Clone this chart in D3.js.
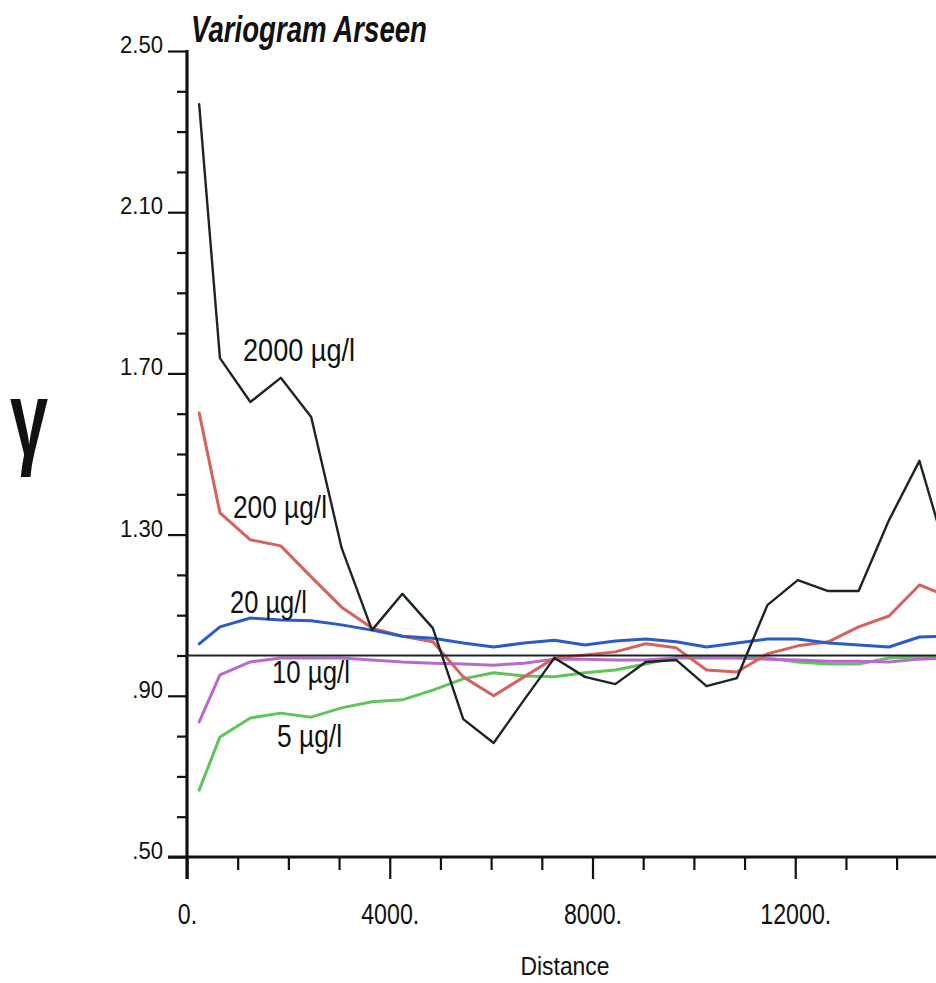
<!DOCTYPE html>
<html>
<head>
<meta charset="utf-8">
<script src="https://cdn.jsdelivr.net/npm/d3@7/dist/d3.min.js"></script>
<style>
  html, body { margin: 0; padding: 0; background: #fff; }
  svg { display: block; }
  text { font-family: "Liberation Sans", Arial, sans-serif; fill: #111; }
</style>
</head>
<body>
<svg id="chart" width="936" height="983"></svg>
<script>
// Lag distances (m) of the experimental indicator variograms
const lags = [240, 650, 1250, 1850, 2450, 3050, 3650, 4250, 4850, 5450, 6050, 6650, 7250,
              7850, 8450, 9050, 9650, 10250, 10850, 11450, 12050, 12650, 13250, 13850, 14450, 15050];

// Standardised semivariance per threshold
const gamma2000 = [2.368, 1.738, 1.629, 1.689, 1.592, 1.267, 1.063, 1.153, 1.068, 0.842, 0.783, 0.890, 0.994,
                   0.947, 0.929, 0.984, 0.989, 0.924, 0.944, 1.125, 1.187, 1.160, 1.160, 1.336, 1.483, 1.225];
const gamma200  = [1.602, 1.354, 1.287, 1.272, 1.195, 1.120, 1.068, 1.048, 1.034, 0.947, 0.900, 0.947, 0.994,
                   1.001, 1.009, 1.029, 1.019, 0.964, 0.959, 1.004, 1.024, 1.034, 1.071, 1.098, 1.175, 1.145];
const gamma20   = [1.029, 1.071, 1.093, 1.088, 1.086, 1.076, 1.063, 1.048, 1.043, 1.031, 1.021, 1.031, 1.038,
                   1.026, 1.036, 1.041, 1.034, 1.021, 1.031, 1.041, 1.041, 1.031, 1.026, 1.021, 1.046, 1.048];
const gamma10   = [0.835, 0.952, 0.984, 0.994, 0.994, 0.994, 0.989, 0.984, 0.981, 0.979, 0.976, 0.981, 0.991,
                   0.991, 0.989, 0.989, 0.994, 0.994, 0.994, 0.991, 0.989, 0.986, 0.986, 0.984, 0.991, 0.994];
const gamma5    = [0.666, 0.798, 0.845, 0.857, 0.847, 0.870, 0.885, 0.890, 0.914, 0.942, 0.957, 0.949, 0.947,
                   0.957, 0.964, 0.979, 0.996, 0.996, 0.996, 0.994, 0.984, 0.979, 0.979, 0.994, 0.996, 0.996];

const seriesNames = ["5 µg/l", "10 µg/l", "20 µg/l", "200 µg/l", "2000 µg/l"];
const sill = 1.0;

const yMajorTicks = [0.5, 0.9, 1.3, 1.7, 2.1, 2.5];
const yTickLabels = [".50", ".90", "1.30", "1.70", "2.10", "2.50"];
const xMajorTicks = [0, 4000, 8000, 12000];
const xTickLabels = ["0.", "4000.", "8000.", "12000."];

const svg = d3.select("#chart");

const x = d3.scaleLinear().domain([0, 16000]).range([187, 998]);
const y = d3.scaleLinear().domain([0.5, 2.5]).range([857, 51]);

// condense a text element horizontally to a fraction of its natural width
function condense(sel, f) {
  sel.each(function () {
    const w = this.getComputedTextLength();
    d3.select(this).attr("textLength", w * f).attr("lengthAdjust", "spacingAndGlyphs");
  });
}

// ---- y axis ----
const yMinor = d3.range(0.5, 2.5001, 0.1).filter(v => !yMajorTicks.some(m => Math.abs(m - v) < 1e-6));
const yAxisMinor = d3.axisLeft(y).tickValues(yMinor).tickSize(10).tickFormat("");
const yAxisMajor = d3.axisLeft(y).tickValues(yMajorTicks).tickSize(19).tickPadding(5)
  .tickFormat((d, i) => yTickLabels[i]);

const gyMinor = svg.append("g").attr("transform", "translate(187,0)").call(yAxisMinor);
const gy = svg.append("g").attr("transform", "translate(187,0)").call(yAxisMajor);
[gyMinor, gy].forEach(g => {
  g.select(".domain").remove();
  g.selectAll("line").attr("stroke", "#111").attr("stroke-width", 2.2);
});
gy.selectAll("text").attr("font-size", 24).attr("dy", "0.06em").style("fill", "#111").call(condense, 0.92);

// ---- x axis ----
const xMinor = d3.range(1000, 16000, 1000).filter(v => v % 4000 !== 0);
const xAxisMinor = d3.axisBottom(x).tickValues(xMinor.concat([16000])).tickSize(13).tickFormat("");
const xAxisMajor = d3.axisBottom(x).tickValues(xMajorTicks).tickSize(22).tickPadding(24)
  .tickFormat((d, i) => xTickLabels[i]);
const gxMinor = svg.append("g").attr("transform", "translate(0,857)").call(xAxisMinor);
const gx = svg.append("g").attr("transform", "translate(0,857)").call(xAxisMajor);
[gxMinor, gx].forEach(g => {
  g.select(".domain").remove();
  g.selectAll("line").attr("stroke", "#111").attr("stroke-width", 2.2);
});
gx.selectAll("text").attr("font-size", 29).style("fill", "#111").call(condense, 0.8);

// axis lines
svg.append("line").attr("x1", 187).attr("x2", 187).attr("y1", y(2.5) - 1).attr("y2", 879)
  .attr("stroke", "#111").attr("stroke-width", 3.2);
svg.append("line").attr("x1", 168).attr("x2", 936).attr("y1", y(0.5)).attr("y2", y(0.5))
  .attr("stroke", "#111").attr("stroke-width", 3.2);

// ---- variogram curves ----
const series = [
  { name: seriesNames[0], values: gamma5,    color: "#5fc45a", width: 3 },
  { name: seriesNames[1], values: gamma10,   color: "#b968cf", width: 3 },
  { name: seriesNames[3], values: gamma200,  color: "#d4625e", width: 3 },
  { name: seriesNames[2], values: gamma20,   color: "#2a5cc4", width: 3 },
  { name: seriesNames[4], values: gamma2000, color: "#1b2525", width: 2.4 }
];

const line = d3.line().x(d => x(d[0])).y(d => y(d[1]));

svg.append("g").selectAll("path").data(series).join("path")
  .attr("d", s => line(lags.map((l, i) => [l, s.values[i]])))
  .attr("fill", "none")
  .attr("stroke", s => s.color)
  .attr("stroke-width", s => s.width)
  .attr("stroke-linejoin", "round")
  .attr("stroke-linecap", "round");

// sill
svg.append("line").attr("x1", x(0)).attr("x2", 936).attr("y1", y(sill)).attr("y2", y(sill))
  .attr("stroke", "#1b2525").attr("stroke-width", 2.2);

// ---- curve labels ----
const curveLabels = [
  { text: seriesNames[4], x: 243, y: 361, w: 112 },
  { text: seriesNames[3], x: 233, y: 518, w: 94 },
  { text: seriesNames[2], x: 230, y: 613, w: 77 },
  { text: seriesNames[1], x: 272, y: 683, w: 78 },
  { text: seriesNames[0], x: 277, y: 747, w: 65 }
];
svg.append("g").selectAll("text").data(curveLabels).join("text")
  .attr("x", d => d.x).attr("y", d => d.y)
  .attr("font-size", 31)
  .attr("textLength", d => d.w).attr("lengthAdjust", "spacingAndGlyphs")
  .text(d => d.text);

// ---- titles ----
svg.append("text").attr("x", 191).attr("y", 42)
  .attr("font-size", 37).attr("font-weight", "bold").attr("font-style", "italic")
  .attr("textLength", 236).attr("lengthAdjust", "spacingAndGlyphs")
  .text("Variogram Arseen");

svg.append("text").attr("x", 565).attr("y", 975).attr("text-anchor", "middle")
  .attr("font-size", 26).text("Distance").call(condense, 0.88);

svg.append("text").attr("x", 10).attr("y", 455)
  .attr("font-size", 106).attr("font-family", "'Liberation Serif', serif").attr("font-weight", "bold")
  .attr("textLength", 38).attr("lengthAdjust", "spacingAndGlyphs")
  .text("γ");
</script>
</body>
</html>
